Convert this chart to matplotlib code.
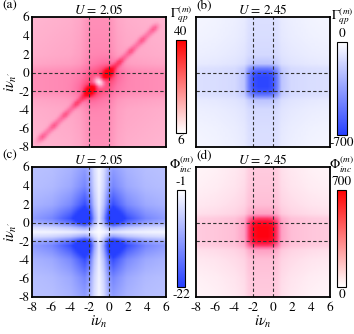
import numpy as np
import matplotlib
matplotlib.use("Agg")
import matplotlib.pyplot as plt
from matplotlib.colors import LinearSegmentedColormap

plt.rcParams['font.family'] = 'STIXGeneral'
plt.rcParams['mathtext.fontset'] = 'stix'
plt.rcParams['font.size'] = 9.5
plt.rcParams['axes.unicode_minus'] = False

# profile nodes (in units of iv)
t_nodes = [-8, -6, -4, -3, -2.5, -2, -1.5, -1, -0.5, 0, 0.5, 1, 2, 4, 6]

# (a) U=2.05, Gamma_qp
band_a = [0, 0.5, 1.0, 2.0, 3.5, 5.0, 5.0, 5.0, 5.0, 5.0, 3.5, 2.0, 1.0, 0.5, 0]
base_a = 16
diag_d = [-1.5, -0.8, -0.5, -0.25, 0, 0.25, 0.5, 0.8, 1.5]
diag_a = [0, 0, 2.5, 6, 7.5, 6, 2.5, 0, 0]
along_s = [-8, -7.6, -7.2, 5.0, 5.5, 6]
along_a = [0, 0.4, 1, 1, 0, 0]
dots_a = [-7.0, -5.8, -4.6, -3.4, 1.2, 2.4, 3.6, 4.8]
spots_a = [(-2, -2, 18), (0, 0, 16), (-1, -1, -28)]

# (b) U=2.45, Gamma_qp
band_b = [0, 0.1, 0.3, 0.5, 0.9, 1, 1, 1, 1, 1, 0.9, 0.5, 0.3, 0.1, 0]
core_b = [0, 0, 0, 0.12, 0.6, 0.92, 1, 1, 1, 0.92, 0.6, 0.12, 0, 0, 0]

# (c) U=2.05, Phi_inc
edge_c = [0.1, 0.15, 0.4, 0.8, 1, 1, 1, 1, 1, 1, 1, 0.8, 0.4, 0.15, 0.1]
env_c = [0.3, 0.45, 0.72, 0.9, 1, 1, 1, 1, 1, 1, 1, 0.9, 0.72, 0.45, 0.3]
white_c = [0, 0, 0, 0, 0, 0.2, 0.65, 0.9, 0.65, 0.2, 0, 0, 0, 0, 0]

# (d) U=2.45, Phi_inc
band_d = [0, 0.1, 0.3, 0.5, 0.9, 1, 1, 1, 1, 1, 0.9, 0.5, 0.3, 0.1, 0]
core_d = [0, 0, 0, 0.12, 0.6, 0.92, 1, 1, 1, 0.92, 0.6, 0.12, 0, 0, 0]

ticks = [-8, -6, -4, -2, 0, 2, 4, 6]

# grid
g = np.linspace(-8, 6, 57)
X, Y = np.meshgrid(g, g)


def prof(vals, t):
    return np.interp(t, t_nodes, vals)


def bump(x0, y0, amp, w):
    return amp * np.exp(-((X - x0) ** 2 + (Y - y0) ** 2) / (2 * w ** 2))


Za = base_a + prof(band_a, X) + prof(band_a, Y)
Za += np.interp(X - Y, diag_d, diag_a) * np.interp((X + Y) / 2, along_s, along_a)
for s in dots_a:
    Za += bump(s, s, 3, 0.3)
for x0, y0, amp in spots_a:
    if amp > 0:
        Za += bump(x0, y0, amp, 0.33) + bump(x0, y0, 5, 1.0)
    else:
        Za += bump(x0, y0, amp, 0.33)

Zb = -(35 + 80 * (prof(band_b, X) + prof(band_b, Y)) + 480 * prof(core_b, X) * prof(core_b, Y))

Ac = 6 + 12 * (prof(edge_c, X) * prof(env_c, Y) + prof(edge_c, Y) * prof(env_c, X))
Zc = -1 - Ac * (1 - prof(white_c, X)) * (1 - prof(white_c, Y))

Zd = 30 + 120 * (prof(band_d, X) + prof(band_d, Y)) + 420 * prof(core_d, X) * prof(core_d, Y)

pink = LinearSegmentedColormap.from_list("pink", [(0, "white"), (0.25, (1, 0.76, 0.85)),
                                                 (0.55, (1, 0.45, 0.65)), (0.85, (1, 0.08, 0.25)),
                                                 (1, (1, 0, 0.05))])
red_bar = LinearSegmentedColormap.from_list("rb", ["white", (1, 0, 0)])
blue = LinearSegmentedColormap.from_list("blue", ["white", (0.15, 0.25, 1.0)])
blue_r = blue.reversed()

fig = plt.figure(figsize=(3.54, 3.34), dpi=100)

panels = [
    # Z, cmap, vmin, vmax, axes rect, cbar rect, cbar cmap, label, top, bottom, letter, title
    (Za, pink, 6, 40, [0.0904, 0.5599, 0.3785, 0.3892], [0.497, 0.602, 0.028, 0.278], red_bar,
     r"$\Gamma_{qp}^{(m)}$", "40", "6", "(a)", r"$U$ = 2.05"),
    (Zb, blue_r, -700, 0, [0.5537, 0.5599, 0.3785, 0.3892], [0.952, 0.596, 0.028, 0.278], blue_r,
     r"$\Gamma_{qp}^{(m)}$", "0", "-700", "(b)", r"$U$ = 2.45"),
    (Zc, blue_r, -22, -1, [0.0904, 0.1108, 0.3785, 0.3892], [0.500, 0.141, 0.024, 0.290], blue_r,
     r"$\mathit{\Phi}_{inc}^{(m)}$", "-1", "-22", "(c)", r"$U$ = 2.05"),
    (Zd, pink, 0, 700, [0.5537, 0.1108, 0.3785, 0.3892], [0.952, 0.141, 0.026, 0.290], red_bar,
     r"$\mathit{\Phi}_{inc}^{(m)}$", "700", "0", "(d)", r"$U$ = 2.45"),
]

for i, (Z, cm, vmin, vmax, rect, crect, ccm, lab, top, bot, letter, title) in enumerate(panels):
    ax = fig.add_axes(rect)
    ax.imshow(Z, cmap=cm, vmin=vmin, vmax=vmax, origin="lower", extent=[-8, 6, -8, 6],
              interpolation="bilinear", aspect="auto")
    for v in [-2, 0]:
        ax.axvline(v, color="#333333", ls=(0, (3, 2)), lw=0.8)
        ax.axhline(v, color="#333333", ls=(0, (3, 2)), lw=0.8)
    ax.set_xlim(-8, 6)
    ax.set_ylim(-8, 6)
    ax.set_xticks(ticks)
    ax.set_yticks(ticks)
    ax.tick_params(axis="y", length=0, pad=2)
    ax.tick_params(axis="x", length=0, pad=4)
    for sp in ax.spines.values():
        sp.set_linewidth(1.3)
    if i % 2 == 0:
        ax.set_ylabel(r"$i\nu_{n'}$", labelpad=-1, fontsize=10.5)
    else:
        ax.set_yticklabels([])
    if i >= 2:
        ax.set_xlabel(r"$i\nu_n$", labelpad=0, fontsize=10.5)
    else:
        ax.set_xticklabels([])
    ax.set_title(title, pad=2, fontsize=9.5)
    fig.text(rect[0] - 0.085 if i % 2 == 0 else rect[0], rect[1] + rect[3] + 0.015, letter,
             fontsize=9.5, ha="left", va="bottom")

    cax = fig.add_axes(crect)
    sm = plt.cm.ScalarMappable(cmap=ccm, norm=plt.Normalize(vmin, vmax))
    cb = fig.colorbar(sm, cax=cax)
    cb.set_ticks([])
    cb.outline.set_linewidth(0.8)
    cx = crect[0] + crect[2] / 2
    fig.text(cx, crect[1] + crect[3] + 0.005, top, ha="center", va="bottom", fontsize=9.5)
    fig.text(cx, crect[1] - 0.008, bot, ha="center", va="top", fontsize=9.5)
    fig.text(cx, crect[1] + crect[3] + 0.045, lab, ha="center", va="bottom", fontsize=9.5)

fig.savefig("out.png", dpi=100)
